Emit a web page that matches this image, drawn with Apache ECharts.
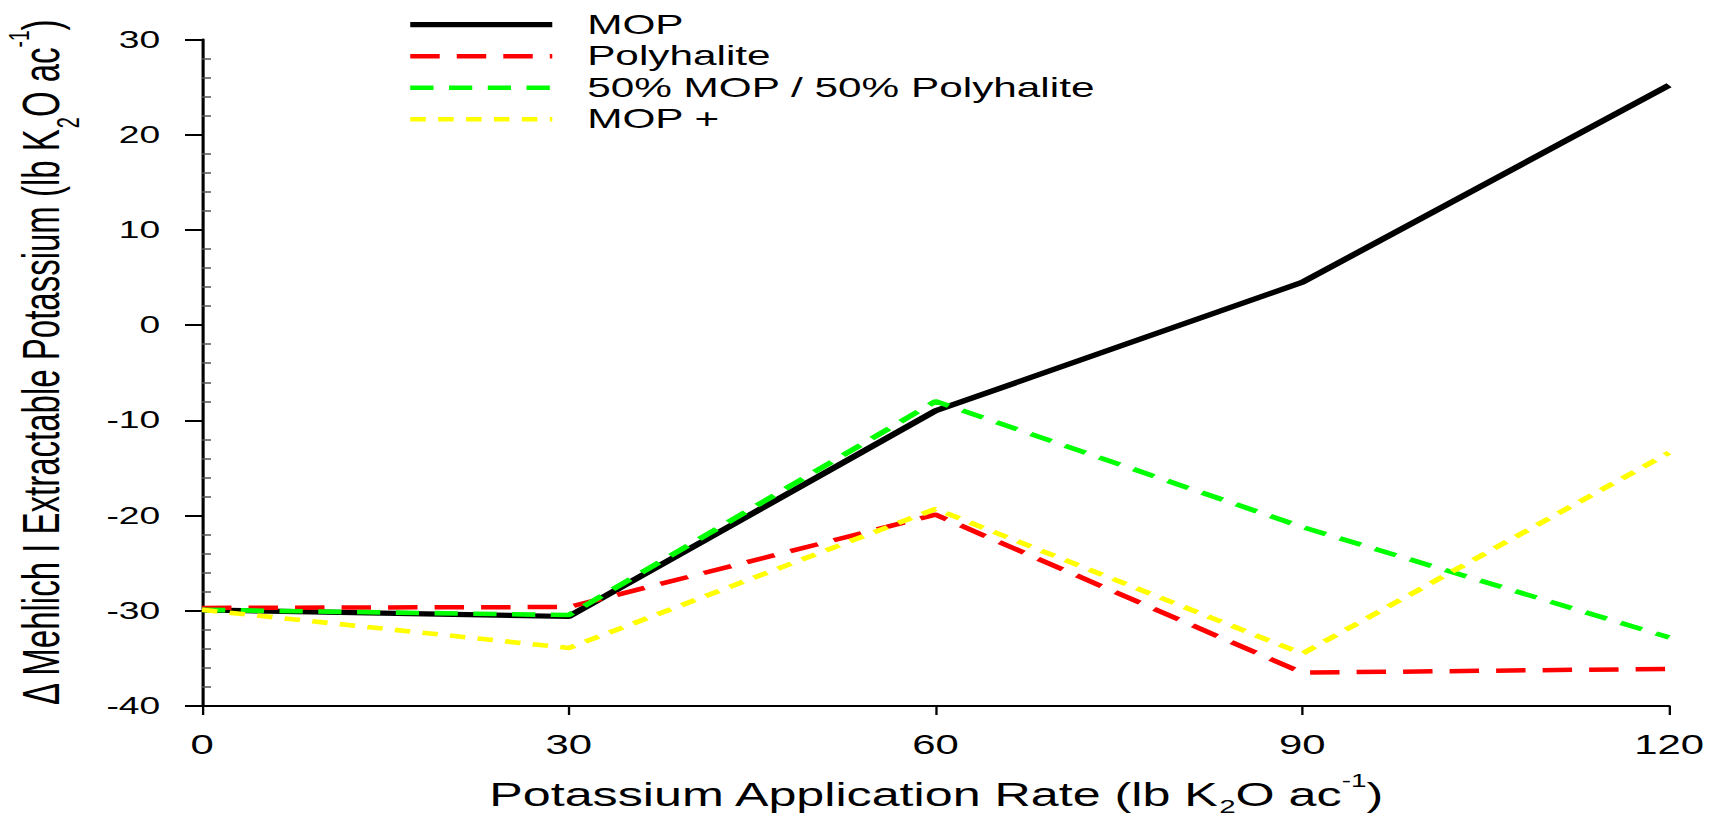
<!DOCTYPE html>
<html><head><meta charset="utf-8">
<script src="https://cdn.jsdelivr.net/npm/echarts@6/dist/echarts.min.js"></script>
<style>
html,body{margin:0;padding:0;background:#fff;overflow:hidden;width:1721px;height:817px}
#chart{width:1140px;height:817px;transform:scaleX(1.55045);transform-origin:0 0}
</style>
</head><body><div id="chart"></div>
<script>
// ---- data ----
const rates = [0, 30, 60, 90, 120];
const seriesNames = ['MOP', 'Polyhalite', '50% MOP / 50% Polyhalite', 'MOP +'];
const mop = [-29.9, -30.6, -9.0, 4.5, 25.2];
const polyhalite = [-29.7, -29.6, -19.9, -36.5, -36.1];
const mopPolyMix = [-29.9, -30.45, -8.0, -21.2, -32.8];
const mopPlus = [-29.9, -33.9, -19.3, -34.5, -13.4];
const xTickLabels = ['0', '30', '60', '90', '120'];
const yTickLabels = ['-40', '-30', '-20', '-10', '0', '10', '20', '30'];
const xTitle = 'Potassium Application Rate (lb K{sub|2}O ac{sup|-1})';
const yTitle = '\u0394 Mehlich I Extractable Potassium (lb K{sub|2}O ac{sup|-1})';

const FONT = "'Liberation Sans', Arial, Helvetica, sans-serif";
const toPairs = arr => rates.map((x, i) => [x, arr[i]]);

const styles = [
  { color: '#000000', width: 5.2, type: 'solid' },
  { color: '#ff0000', width: 4.5, type: [19, 11] },
  { color: '#00ff00', width: 4.6, type: [15, 10] },
  { color: '#ffff00', width: 4.6, type: [10, 8] }
];
const dataArrays = [mop, polyhalite, mopPolyMix, mopPlus];

const chart = echarts.init(document.getElementById('chart'), null, { renderer: 'svg' });
chart.setOption({
  animation: false,
  backgroundColor: '#ffffff',
  textStyle: { fontFamily: FONT, color: '#000' },
  grid: { left: 130.3, right: 63.5, top: 39.5, bottom: 111, containLabel: false, outerBoundsMode: 'none' },
  legend: {
    orient: 'vertical', left: 262, top: 11.2, padding: 0,
    itemWidth: 91.6, itemHeight: 20, itemGap: 4.5,
    data: seriesNames,
    itemStyle: { opacity: 0 },
    lineStyle: { width: 'inherit', type: 'inherit' },
    textStyle: { fontFamily: FONT, fontSize: 27.3, color: '#000', padding: [0, 0, 0, 17.5], lineHeight: 20 }
  },
  xAxis: {
    type: 'value', min: 0, max: 120, interval: 30,
    name: xTitle, nameLocation: 'middle', nameGap: 72.5,
    nameMoveOverlap: false,
    nameTextStyle: {
      fontFamily: FONT, fontSize: 32.4, lineHeight: 32, color: '#000',
      rich: {
        sub: { fontFamily: FONT, fontSize: 19, lineHeight: 20, padding: [24, 0, 0, 0], color: '#000' },
        sup: { fontFamily: FONT, fontSize: 18, lineHeight: 20, padding: [0, 0, 28, 0], color: '#000' }
      }
    },
    axisLine: { onZero: false, lineStyle: { color: '#000', width: 2 } },
    axisTick: { show: true, inside: false, length: 9, lineStyle: { color: '#000', width: 1.5 } },
    axisLabel: {
      fontFamily: FONT, fontSize: 27, color: '#000', margin: 25,
      formatter: v => xTickLabels[rates.indexOf(v)] ?? ''
    },
    splitLine: { show: false }
  },
  yAxis: [
    {
      type: 'value', min: -40, max: 30, interval: 10, position: 'left',
      name: yTitle, nameLocation: 'middle', nameGap: 86.5,
      nameMoveOverlap: false,
      nameTextStyle: {
        fontFamily: FONT, fontSize: 33, lineHeight: 34, color: '#000', padding: [0, 0, 0, 20],
        rich: {
          sub: { fontFamily: FONT, fontSize: 20, lineHeight: 20, padding: [34, 0, 0, 0], color: '#000' },
          sup: { fontFamily: FONT, fontSize: 19, lineHeight: 20, padding: [0, 0, 29, 0], color: '#000' }
        }
      },
      axisLine: { onZero: false, lineStyle: { color: '#000', width: 2 } },
      axisTick: { show: true, inside: false, length: 11, lineStyle: { color: '#000', width: 2 } },
      axisLabel: {
        fontFamily: FONT, fontSize: 24, color: '#000', margin: 27,
        formatter: v => { const i = Math.round((v + 40) / 10); return yTickLabels[i] ?? ''; }
      },
      splitLine: { show: false }
    },
    {
      type: 'value', min: -40, max: 30, interval: 10, position: 'left', offset: 0,
      axisLine: { show: false, onZero: false },
      axisTick: { show: false, inside: true },
      minorTick: { show: true, splitNumber: 5, length: 5.8, lineStyle: { color: '#555', width: 1.5 } },
      axisLabel: { show: false },
      splitLine: { show: false }
    }
  ],
  series: seriesNames.map((name, i) => ({
    name, type: 'line', symbol: 'none', showSymbol: false,
    data: toPairs(dataArrays[i]),
    itemStyle: { color: styles[i].color },
    lineStyle: { color: styles[i].color, width: styles[i].width, type: styles[i].type, cap: 'butt' },
    z: 2 + i
  }))
});
</script>
</body></html>
